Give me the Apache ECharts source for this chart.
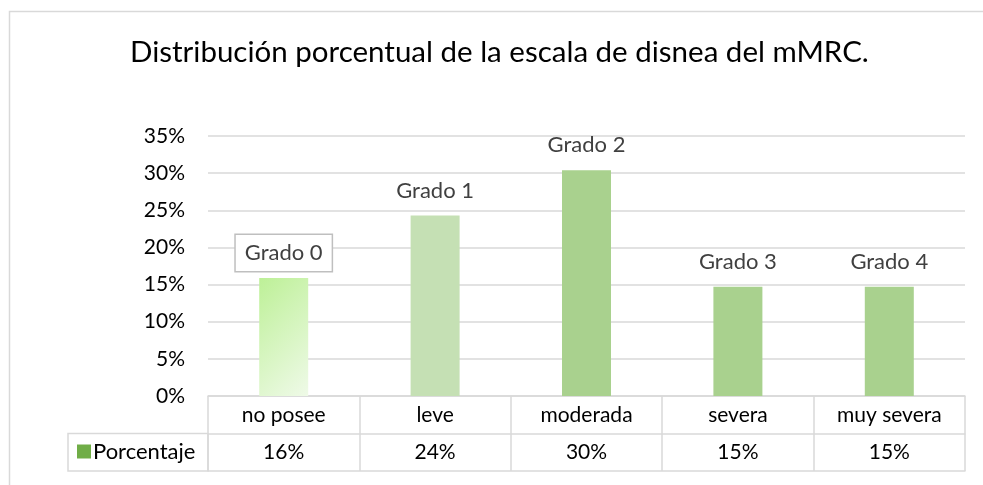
<!DOCTYPE html>
<html>
<head>
<meta charset="utf-8">
<script src="https://cdn.jsdelivr.net/npm/echarts@6/dist/echarts.min.js"></script>
<style>html,body{margin:0;padding:0;background:#fff}#c{width:983px;height:485px}</style>
</head>
<body>
<div id="c"></div>
<script>
const titleText = 'Distribución porcentual de la escala de disnea del mMRC.';
const categories = ['no posee', 'leve', 'moderada', 'severa', 'muy severa'];
const gradeLabels = ['Grado 0', 'Grado 1', 'Grado 2', 'Grado 3', 'Grado 4'];
const values = [15.9, 24.3, 30.4, 14.7, 14.7];
const seriesName = 'Porcentaje';
const yTicks = { min: 0, max: 35, interval: 5 };

const FONT = 'Lato';
const chart = echarts.init(document.getElementById('c'), null, { renderer: 'canvas' });

const G = { left: 208, right: 18, top: 136, bottom: 89 };
const rowH = 37.5;
const H = 485;
const plotBottom = H - G.bottom;

const barColors = [
  new echarts.graphic.LinearGradient(0, 0, 1.7, 0.71, [
    { offset: 0, color: '#bdf097' },
    { offset: 1, color: '#effae8' }
  ]),
  '#c5e0b4', '#a9d18e', '#a9d18e', '#a9d18e'
];

const option = {
  animation: false,
  backgroundColor: '#fff',
  textStyle: { fontFamily: FONT },
  title: {
    text: titleText,
    left: 130,
    top: 37,
    padding: 0,
    textStyle: { fontFamily: FONT, fontSize: 29.5, fontWeight: 'normal', color: '#000' }
  },
  legend: {
    data: [seriesName],
    left: 77,
    top: plotBottom + rowH + 6,
    padding: 0,
    icon: 'rect',
    itemWidth: 14,
    itemHeight: 14,
    itemGap: 4,
    textStyle: { fontFamily: FONT, fontSize: 22, color: '#000', lineHeight: 24, padding: [0, 0, 0, -3] }
  },
  grid: { left: G.left, right: G.right, top: G.top, bottom: G.bottom, containLabel: false },
  xAxis: [
    {
      type: 'category',
      data: categories,
      position: 'bottom',
      axisLine: { show: true, lineStyle: { color: '#d9d9d9', width: 1.5 } },
      axisTick: { show: true, alignWithLabel: false, length: rowH * 2, lineStyle: { color: '#d9d9d9', width: 1.5 } },
      axisLabel: { margin: 8, fontFamily: FONT, fontSize: 21, color: '#000', lineHeight: 22 }
    },
    {
      type: 'category',
      data: categories,
      position: 'bottom',
      offset: rowH,
      axisLine: { show: true, lineStyle: { color: '#d9d9d9', width: 1.5 } },
      axisTick: { show: false },
      axisLabel: {
        margin: 8, fontFamily: FONT, fontSize: 21, color: '#000', lineHeight: 22,
        formatter: (v, i) => Math.round(values[i]) + '%'
      }
    },
    {
      type: 'category',
      data: categories,
      position: 'bottom',
      offset: rowH * 2,
      axisLine: { show: true, lineStyle: { color: '#d9d9d9', width: 1.5 } },
      axisTick: { show: false },
      axisLabel: { show: false }
    }
  ],
  yAxis: {
    type: 'value',
    min: yTicks.min,
    max: yTicks.max,
    interval: yTicks.interval,
    axisLine: { show: false },
    axisTick: { show: false },
    splitLine: { lineStyle: { color: '#d9d9d9', width: 1.5 } },
    axisLabel: { margin: 23, fontFamily: FONT, fontSize: 21, color: '#000', formatter: '{value}%' }
  },
  series: [{
    name: seriesName,
    type: 'bar',
    xAxisIndex: 0,
    barWidth: 49,
    itemStyle: { color: '#70ad47' },
    data: values.map((v, i) => {
      const d = {
        value: v,
        itemStyle: { color: barColors[i] },
        label: {
          show: true, position: 'top', distance: 14,
          formatter: gradeLabels[i],
          fontFamily: FONT, fontSize: 22, color: '#404040', lineHeight: 22
        }
      };
      if (i === 0) {
        d.label.distance = 7;
        d.label.borderColor = '#bfbfbf';
        d.label.borderWidth = 1.5;
        d.label.padding = [7, 9, 7, 9];
        d.label.backgroundColor = '#fff';
      }
      return d;
    })
  }],
  graphic: [
    {
      type: 'rect',
      shape: { x: 9.5, y: 11.5, width: 1200, height: 1200 },
      style: { fill: 'none', stroke: '#d9d9d9', lineWidth: 1.5 },
      silent: true, z: -1
    },
    {
      type: 'rect',
      shape: { x: 68, y: plotBottom + rowH, width: G.left - 68, height: rowH },
      style: { fill: 'none', stroke: '#d9d9d9', lineWidth: 1.5 },
      silent: true
    }
  ]
};
chart.setOption(option);
</script>
</body>
</html>
